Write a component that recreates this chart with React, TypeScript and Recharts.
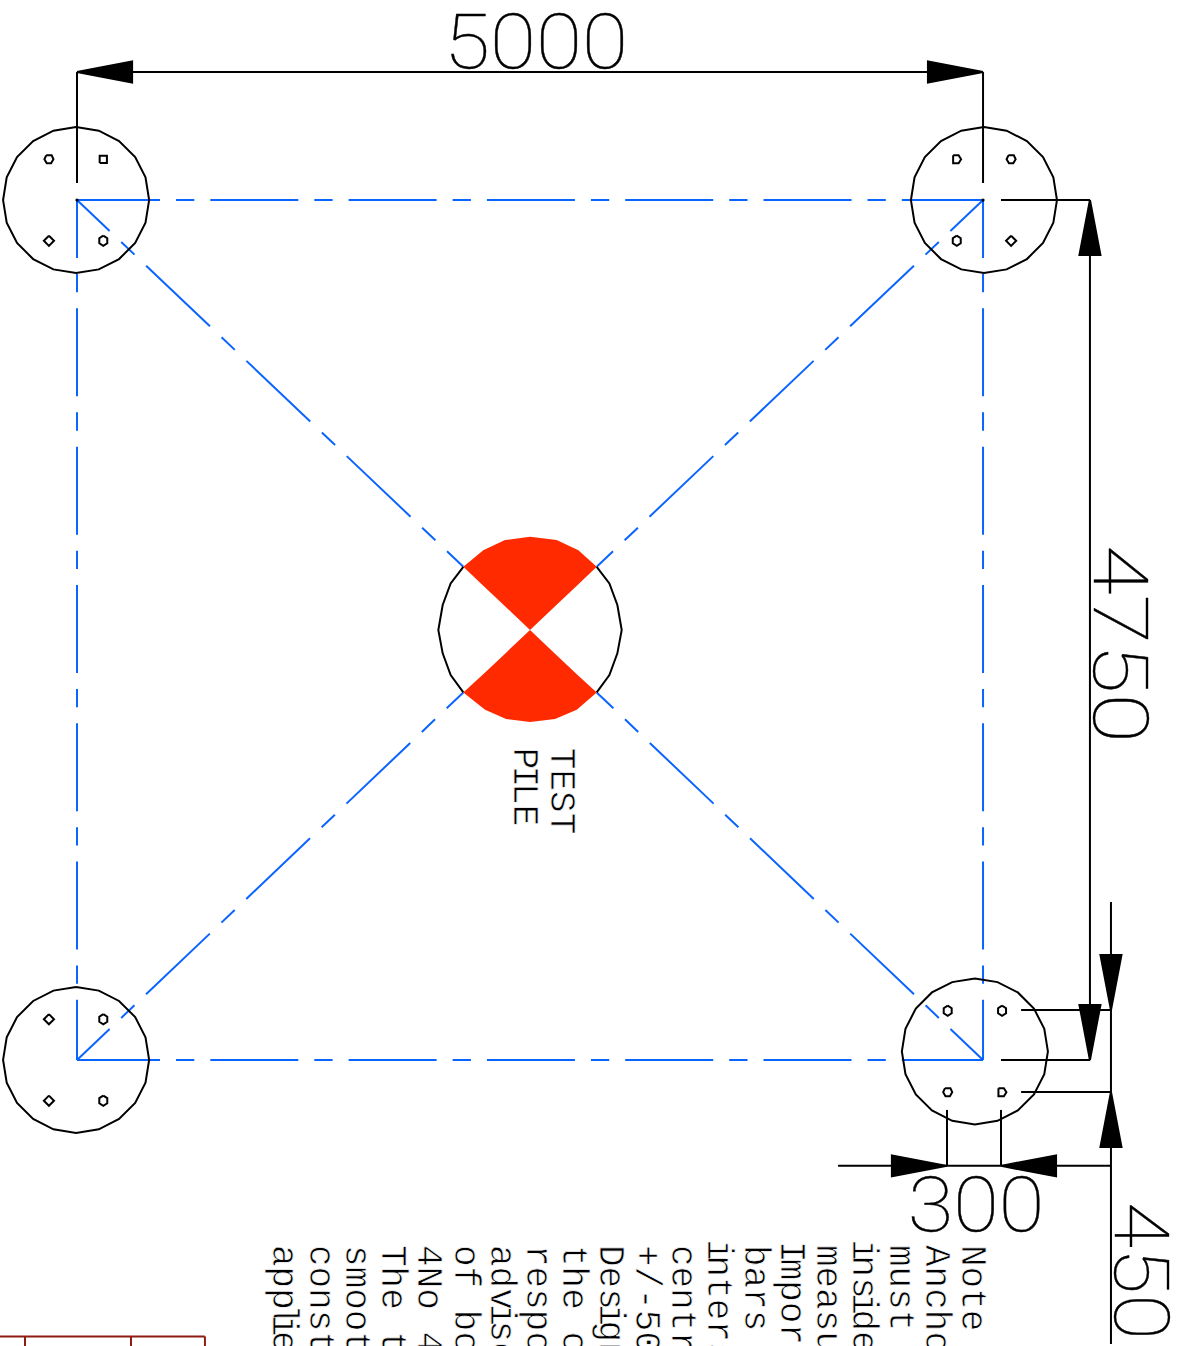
import { Area, ComposedChart, Line, Scatter, XAxis, YAxis } from "recharts";

type Pt = { x: number; y: number };

// all drawing values are in mm, origin at the bottom left pile
const pileCentres = [
	[-5, 4750],
	[5005, 4750],
	[-5, 0],
	[4955, 47],
];
const testPileCentre = [2500, 2375];

const pileOutline = [
	[0, 403], [125, 383], [237, 326], [326, 237], [383, 125], [403, 0], [383, -125], [326, -237], [237, -326], [125, -383],
	[0, -403], [-125, -383], [-237, -326], [-326, -237], [-383, -125], [-403, 0], [-383, 125], [-326, 237], [-237, 326], [-125, 383],
];
const testPileRightArc = [[368, 349], [438, 257], [482, 138], [506, 0], [482, -129], [438, -249], [368, -345]];
const testPileLeftArc = [[-368, 349], [-438, 257], [-482, 138], [-506, 0], [-482, -129], [-438, -249], [-368, -345]];

// red quarters: x offset, inner edge, outer edge
const topQuarter = [
	[-368, 349, 349], [-258, 245, 441], [-138, 131, 497], [0, 0, 515], [147, 139, 497], [267, 253, 441], [368, 349, 349],
];
const bottomQuarter = [
	[-368, -345, -345], [-248, -235, -441], [-132, -125, -491], [0, 0, -508], [138, -131, -491], [258, -245, -441], [368, -345, -345],
];

const rebarSquare = [[-20, -20], [20, -20], [20, 20], [-20, 20]];
const rebarDiamond = [[0, 28], [28, 0], [0, -28], [-28, 0]];
const rebarHexFlat = [[-15, 22], [15, 22], [25, 0], [12, -22], [-12, -22], [-25, 0]];
const rebarHexTall = [[0, 28], [22, 14], [22, -14], [0, -28], [-22, -14], [-22, 14]];
const rebarD = [[-20, 22], [10, 22], [24, 0], [10, -22], [-20, -22]];

// pile index, x offset, y offset, outline
const rebars: [number, number, number, number[][]][] = [
	[0, -150, 225, rebarHexFlat], [0, 150, 225, rebarSquare], [0, -150, -225, rebarDiamond], [0, 150, -225, rebarHexTall],
	[1, -150, 225, rebarD], [1, 150, 225, rebarHexFlat], [1, -150, -225, rebarHexTall], [1, 150, -225, rebarDiamond],
	[2, -150, 225, rebarDiamond], [2, 150, 225, rebarHexTall], [2, -150, -225, rebarDiamond], [2, 150, -225, rebarHexTall],
	[3, -150, 225, rebarHexTall], [3, 150, 225, rebarHexTall], [3, -150, -225, rebarHexFlat], [3, 150, -225, rebarD],
];

const gridLines = [
	[[0, 4750], [5000, 4750]],
	[[0, 0], [5000, 0]],
];
const gridVerticals = [
	[[0, 4750], [0, 0]],
	[[5000, 4750], [5000, 0]],
];
// each one stops where it meets the test pile
const gridDiagonals = [
	[[0, 4750], [2132, 2724]],
	[[5000, 4750], [2868, 2724]],
	[[0, 0], [2132, 2030]],
	[[5000, 0], [2868, 2030]],
];
const cornerMarks = [
	{ x: 0, y: 4750 },
	{ x: 5000, y: 4750 },
];

const dimensionLines = [
	[[0, 5457], [5000, 5457]],
	[[0, 5457], [0, 4844]],
	[[5000, 5457], [5000, 4844]],
	[[5099, 4750], [5590, 4750]],
	[[5099, 0], [5590, 0]],
	[[5590, 4750], [5590, 0]],
	[[5706, 873], [5706, -1569]],
	[[5210, 276], [5706, 276]],
	[[5210, -177], [5706, -177]],
	[[4200, -585], [5706, -585]],
	[[4801, -276], [4801, -585]],
	[[5099, -276], [5099, -585]],
];

// tip x, tip y, direction
const arrowHeads: [number, number, string][] = [
	[0, 5457, "left"],
	[5000, 5457, "right"],
	[5590, 4750, "up"],
	[5590, 0, "down"],
	[5706, 276, "down"],
	[5706, -177, "up"],
	[4801, -585, "right"],
	[5099, -585, "left"],
];

const tableLines = [
	[[-425, -1527], [705, -1527]],
	[[-287, -1527], [-287, -1600]],
	[[298, -1527], [298, -1600]],
	[[706, -1527], [706, -1600]],
];

const topDimension = [{ x: 2025, y: 5480, label: "5000" }];
const lowDimension = [{ x: 4585, y: -945, label: "300" }];
const sideDimension = [{ x: 5615, y: 2845, label: "4750" }];
const anchorDimension = [{ x: 5729, y: -785, label: "450" }];
const pileLabels = [
	{ x: 2613, y: 1724, label: "TEST" },
	{ x: 2410, y: 1724, label: "PILE" },
];
const noteLines = [
	"Note", "Anchor", "must", "inside", "measure", "Important", "bars", "intersect", "centre", "+/-50",
	"Design", "the c", "respon", "advise", "of bo", "4No 4", "The t", "smooth", "constr", "applied",
];
const noteRows = noteLines.map((label, i) => ({ x: 4884 - i * 200, y: -1022, label }));

const pointsOf = (pts: number[][]): Pt[] => pts.map(([x, y]) => ({ x, y }));
const pathAt = (c: number[], outline: number[][]): Pt[] => outline.map(([x, y]) => ({ x: c[0] + x, y: c[1] + y }));
const ringAt = (c: number[], outline: number[][]): Pt[] => pathAt(c, [...outline, outline[0]]);

const HEAD_LEN = 304;
const HEAD_HALF = 58;

function headRing([x, y, dir]: [number, number, string]): Pt[] {
	if (dir === "left") return pointsOf([[x, y], [x + HEAD_LEN, y + HEAD_HALF], [x + HEAD_LEN, y - HEAD_HALF], [x, y]]);
	if (dir === "right") return pointsOf([[x, y], [x - HEAD_LEN, y + HEAD_HALF], [x - HEAD_LEN, y - HEAD_HALF], [x, y]]);
	if (dir === "up") return pointsOf([[x, y], [x + HEAD_HALF, y - HEAD_LEN], [x - HEAD_HALF, y - HEAD_LEN], [x, y]]);
	return pointsOf([[x, y], [x + HEAD_HALF, y + HEAD_LEN], [x - HEAD_HALF, y + HEAD_LEN], [x, y]]);
}

function headBand([x, y, dir]: [number, number, string]) {
	if (dir === "left") return [{ x, band: [y, y] }, { x: x + HEAD_LEN, band: [y - HEAD_HALF, y + HEAD_HALF] }];
	if (dir === "right") return [{ x: x - HEAD_LEN, band: [y - HEAD_HALF, y + HEAD_HALF] }, { x, band: [y, y] }];
	const baseY = dir === "up" ? y - HEAD_LEN : y + HEAD_LEN;
	return [
		{ x: x - HEAD_HALF, band: [baseY, baseY] },
		{ x, band: [baseY, y] },
		{ x: x + HEAD_HALF, band: [baseY, baseY] },
	];
}

const quarterBand = (rows: number[][]) =>
	rows.map(([dx, a, b]) => ({ x: testPileCentre[0] + dx, band: [testPileCentre[1] + a, testPileCentre[1] + b] }));

// big dimension figures
function dimensionText(rotated: boolean, advance: number) {
	return (props: any) => {
		const { cx, cy, payload } = props;
		return (
			<text
				x={cx}
				y={cy}
				fontFamily="Roboto"
				fontWeight={100}
				fontSize={76}
				fill="#000"
				stroke="#000"
				strokeWidth={0.4}
				textLength={advance * payload.label.length}
				lengthAdjust="spacingAndGlyphs"
				transform={rotated ? `rotate(90 ${cx} ${cy})` : undefined}
			>
				{payload.label}
			</text>
		);
	};
}

// the drawing font is even width except for its narrow i and l
const narrowBy = (ch?: string) => (ch === "i" || ch === "l" ? -5.5 : ch === "I" ? -4 : 0);
const narrowGaps = (label: string) =>
	label
		.split("")
		.map((ch, i) => narrowBy(ch) + narrowBy(label[i - 1]))
		.join(" ");

function noteText(props: any) {
	const { cx, cy, payload } = props;
	return (
		<text
			x={cx}
			y={cy}
			dx={narrowGaps(payload.label)}
			fontFamily="Liberation Mono"
			fontSize={36}
			fill="#000"
			stroke="#fff"
			strokeWidth={0.7}
			transform={`rotate(90 ${cx} ${cy})`}
		>
			{payload.label}
		</text>
	);
}

const cornerMark = (props: any) => <circle cx={props.cx} cy={props.cy} r={1.6} fill="#000" />;

const blueDash = "88 16 18.3 16";
const BLUE = "#0a64ff";
const RED = "#ff2a00";
const DARK_RED = "#8e1c12";

function plain(key: string, data: Pt[], color = "#000", width = 2) {
	return (
		<Line
			key={key}
			data={data}
			dataKey="y"
			type="linear"
			stroke={color}
			strokeWidth={width}
			dot={false}
			activeDot={false}
			legendType="none"
			isAnimationActive={false}
		/>
	);
}

function dashed(key: string, data: Pt[], offset: number) {
	return (
		<Line
			key={key}
			data={data}
			dataKey="y"
			type="linear"
			stroke={BLUE}
			strokeWidth={2}
			strokeDasharray={blueDash}
			strokeDashoffset={offset}
			dot={false}
			activeDot={false}
			legendType="none"
			isAnimationActive={false}
		/>
	);
}

function filled(key: string, data: any[], color: string) {
	return (
		<Area
			key={key}
			data={data}
			dataKey="band"
			type="linear"
			stroke="none"
			fill={color}
			fillOpacity={1}
			dot={false}
			activeDot={false}
			legendType="none"
			isAnimationActive={false}
		/>
	);
}

export default function App() {
	return (
		<div style={{ position: "absolute", left: 0, top: 0, width: 1182, height: 1346, background: "#fff" }}>
			<ComposedChart width={1182} height={1346} margin={{ top: 0, right: 0, bottom: 0, left: 0 }}>
				<XAxis type="number" dataKey="x" domain={[-425, 6098]} allowDataOverflow hide />
				<YAxis type="number" domain={[-1580, 5855]} allowDataOverflow hide />

				{gridLines.map((l, i) => dashed(`h${i}`, pointsOf(l), 5))}
				{gridVerticals.map((l, i) => dashed(`v${i}`, pointsOf(l), 30))}
				{gridDiagonals.map((l, i) => dashed(`d${i}`, pointsOf(l), 43))}

				{pileCentres.map((c, i) => plain(`pile${i}`, ringAt(c, pileOutline)))}
				{plain("testPileRight", pathAt(testPileCentre, testPileRightArc))}
				{plain("testPileLeft", pathAt(testPileCentre, testPileLeftArc))}
				{filled("topQuarter", quarterBand(topQuarter), RED)}
				{filled("bottomQuarter", quarterBand(bottomQuarter), RED)}

				{rebars.map(([p, dx, dy, outline], i) =>
					plain(`bar${i}`, ringAt([pileCentres[p][0] + dx, pileCentres[p][1] + dy], outline)),
				)}

				{dimensionLines.map((l, i) => plain(`dim${i}`, pointsOf(l)))}
				{arrowHeads.map((h, i) => filled(`headFill${i}`, headBand(h), "#000"))}
				{arrowHeads.map((h, i) => plain(`headLine${i}`, headRing(h)))}
				{tableLines.map((l, i) => plain(`table${i}`, pointsOf(l), DARK_RED, 2))}

				<Scatter data={cornerMarks} dataKey="y" isAnimationActive={false} shape={cornerMark} />
				<Scatter data={topDimension} dataKey="y" isAnimationActive={false} shape={dimensionText(false, 46)} />
				<Scatter data={lowDimension} dataKey="y" isAnimationActive={false} shape={dimensionText(false, 45.5)} />
				<Scatter data={sideDimension} dataKey="y" isAnimationActive={false} shape={dimensionText(true, 49.5)} />
				<Scatter data={anchorDimension} dataKey="y" isAnimationActive={false} shape={dimensionText(true, 46)} />
				<Scatter data={pileLabels} dataKey="y" isAnimationActive={false} shape={noteText} />
				<Scatter data={noteRows} dataKey="y" isAnimationActive={false} shape={noteText} />
			</ComposedChart>
		</div>
	);
}
